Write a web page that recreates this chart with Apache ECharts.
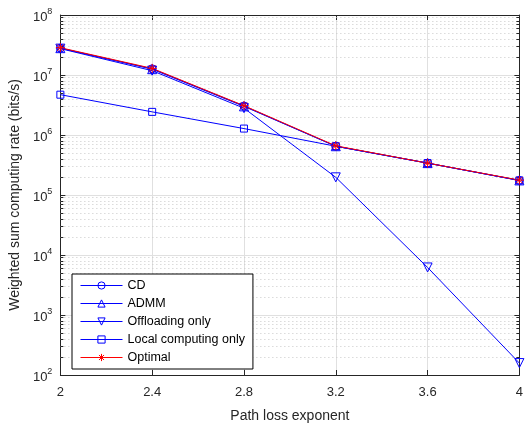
<!DOCTYPE html>
<html>
<head>
<meta charset="utf-8">
<script src="https://cdn.jsdelivr.net/npm/echarts@6/dist/echarts.min.js"></script>
<style>html,body{margin:0;padding:0;background:#fff}#c{width:526px;height:428px}</style>
</head>
<body>
<div id="c"></div>
<script>
const xValues = [2, 2.4, 2.8, 3.2, 3.6, 4];
const cdValues = [2.8e7, 1.27e7, 3.05e6, 6.5e5, 3.4e5, 1.75e5];
const admmValues = [2.8e7, 1.25e7, 3.0e6, 6.5e5, 3.4e5, 1.75e5];
const offloadValues = [2.75e7, 1.18e7, 2.8e6, 1.97e5, 6.2e3, 158];
const localValues = [4.7e6, 2.43e6, 1.28e6, 6.5e5, 3.4e5, 1.75e5];
const optimalValues = [2.85e7, 1.29e7, 3.08e6, 6.6e5, 3.4e5, 1.77e5];
const seriesNames = ['CD', 'ADMM', 'Offloading only', 'Local computing only', 'Optimal'];

const FONT = '"Liberation Sans", Arial, Helvetica, sans-serif';
const AX = '#262626';
const BLUE = '#0000ff';
const RED = '#ff0000';
const STAR = 'path://M5,0 L5,10 M0,5 L10,5 M1.5,1.5 L8.5,8.5 M8.5,1.5 L1.5,8.5';
const CLEAR = 'rgba(0,0,0,0)';

function pairs(ys) { return xValues.map((x, i) => [x, ys[i]]); }

// minor grid values and ticks
const minorVals = [];
for (let d = 2; d < 8; d++) for (let m = 2; m <= 9; m++) minorVals.push(m * Math.pow(10, d));
const markData = [];
minorVals.forEach(v => {
  markData.push([{ coord: [2, v], lineStyle: { color: '#c8c8c8', type: [1, 3], width: 1 } }, { coord: [4, v] }]);
  markData.push([{ coord: [2, v], lineStyle: { color: AX, type: 'solid', width: 1 } }, { coord: [2.013, v] }]);
  markData.push([{ coord: [3.987, v], lineStyle: { color: AX, type: 'solid', width: 1 } }, { coord: [4, v] }]);
});

function mk(name, ys, symbol, size, color, extra) {
  return Object.assign({
    name: name, type: 'line', data: pairs(ys), symbol: symbol, symbolSize: size,
    xAxisIndex: 0, yAxisIndex: 0,
    lineStyle: { color: color, width: 1 },
    itemStyle: { color: CLEAR, borderColor: color, borderWidth: 1 },
    emphasis: { disabled: true }, animation: false, z: 3
  }, extra || {});
}

const series = [
  Object.assign(mk(seriesNames[0], cdValues, 'circle', 8, BLUE), {
    markLine: { silent: true, symbol: ['none', 'none'], label: { show: false }, data: markData, animation: false, z: 1 }
  }),
  mk(seriesNames[1], admmValues, 'triangle', 9, BLUE),
  mk(seriesNames[2], offloadValues, 'triangle', 9, BLUE, { symbolRotate: 180 }),
  mk(seriesNames[3], localValues, 'rect', 7, BLUE),
  mk(seriesNames[4], optimalValues, STAR, 9, RED)
];

const legendIcons = ['circle', 'triangle', 'triangle', 'rect', STAR];
const legendColors = [BLUE, BLUE, BLUE, BLUE, RED];
const legendData = seriesNames.map((n, i) => ({
  name: n,
  itemStyle: { color: CLEAR, borderColor: legendColors[i], borderWidth: 1 },
  lineStyle: { color: legendColors[i], width: 1 }
}));

const chart = echarts.init(document.getElementById('c'), null, { renderer: 'canvas' });
chart.setOption({
  backgroundColor: '#fff',
  animation: false,
  textStyle: { fontFamily: FONT },
  grid: { left: 58, right: 3, top: 15, bottom: 47, containLabel: false },
  legend: {
    data: legendData, orient: 'vertical', left: 72, top: 274,
    itemWidth: 42, itemHeight: 9, itemGap: 5,
    padding: [5, 8, 5, 8],
    borderColor: '#000', borderWidth: 1, backgroundColor: '#fff', borderRadius: 0,
    itemStyle: { color: CLEAR, borderWidth: 1 },
    lineStyle: { width: 1 },
    textStyle: { fontSize: 12.5, color: '#000', fontFamily: FONT },
    selectedMode: false
  },
  xAxis: [{
    type: 'value', min: 2, max: 4, interval: 0.4, position: 'bottom',
    name: 'Path loss exponent', nameLocation: 'middle', nameGap: 34,
    nameTextStyle: { fontSize: 14, color: AX, fontFamily: FONT },
    axisLine: { show: true, lineStyle: { color: AX, width: 1 } },
    axisTick: { show: true, inside: true, length: 5, lineStyle: { color: AX } },
    axisLabel: { fontSize: 13, color: AX, margin: 11, fontFamily: FONT },
    splitLine: { show: true, lineStyle: { color: '#e0e0e0', width: 1 } }
  }, {
    type: 'value', min: 2, max: 4, interval: 0.4, position: 'top',
    axisLine: { show: true, onZero: false, lineStyle: { color: AX, width: 1 } },
    axisTick: { show: true, inside: true, length: 5, lineStyle: { color: AX } },
    axisLabel: { show: false }, splitLine: { show: false }
  }],
  yAxis: [{
    type: 'log', logBase: 10, min: 100, max: 1e8, position: 'left',
    name: 'Weighted sum computing rate (bits/s)', nameLocation: 'middle', nameGap: 31,
    nameTextStyle: { fontSize: 14, color: AX, fontFamily: FONT },
    axisLine: { show: true, lineStyle: { color: AX, width: 1 } },
    axisTick: { show: true, inside: true, length: 5, lineStyle: { color: AX } },
    minorTick: { show: false },
    axisLabel: {
      color: AX, margin: 8, fontFamily: FONT,
      formatter: function (v) { const e = Math.round(Math.log10(v)); return '{b|10}{s|' + e + '}'; },
      rich: {
        b: { fontSize: 13, color: AX, fontFamily: FONT, lineHeight: 18, verticalAlign: 'bottom' },
        s: { fontSize: 9, color: AX, fontFamily: FONT, lineHeight: 18, verticalAlign: 'bottom', padding: [0, 0, 8, 0] }
      }
    },
    splitLine: { show: true, lineStyle: { color: '#e0e0e0', width: 1 } }
  }, {
    type: 'log', logBase: 10, min: 100, max: 1e8, position: 'right',
    axisLine: { show: true, lineStyle: { color: AX, width: 1 } },
    axisTick: { show: true, inside: true, length: 5, lineStyle: { color: AX } },
    axisLabel: { show: false }, splitLine: { show: false }
  }],
  series: series
});
</script>
</body>
</html>
